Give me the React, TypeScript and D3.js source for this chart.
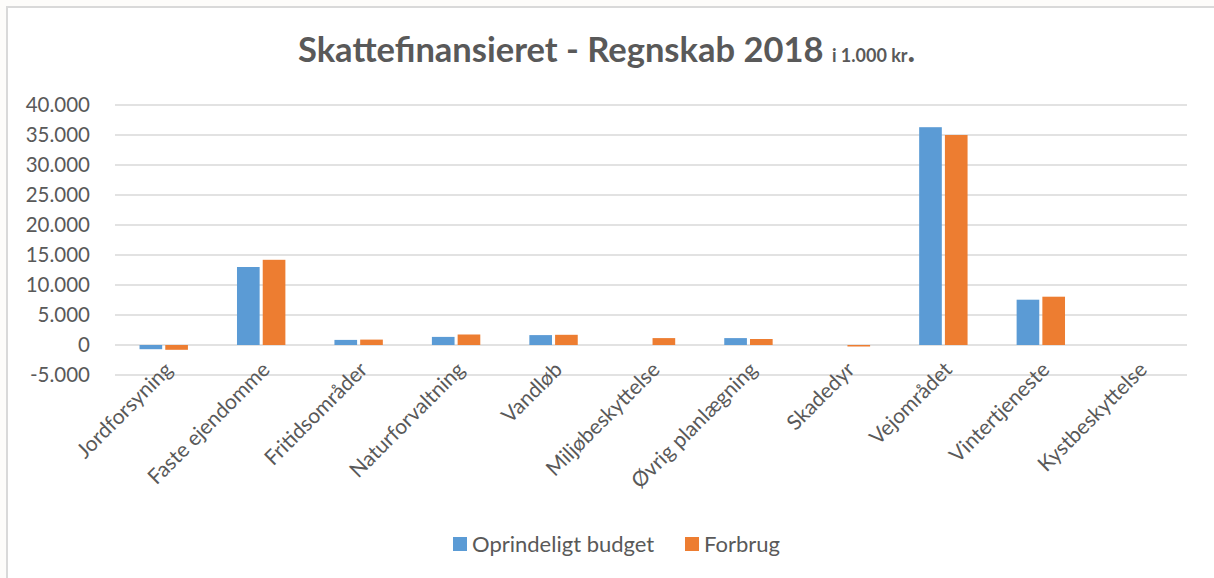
import React, { useEffect, useRef } from "react";
import * as d3 from "d3";

const categories = [
  "Jordforsyning",
  "Faste ejendomme",
  "Fritidsområder",
  "Naturforvaltning",
  "Vandløb",
  "Miljøbeskyttelse",
  "Øvrig planlægning",
  "Skadedyr",
  "Vejområdet",
  "Vintertjeneste",
  "Kystbeskyttelse",
];

const seriesNames = ["Oprindeligt budget", "Forbrug"];
const budget = [-700, 13000, 850, 1350, 1650, 0, 1150, 0, 36300, 7550, 0];
const forbrug = [-800, 14200, 900, 1750, 1700, 1150, 1000, -250, 35000, 8050, 0];
const yTicks = [-5000, 0, 5000, 10000, 15000, 20000, 25000, 30000, 35000, 40000];

const colors = ["#5B9BD5", "#ED7D31"];
const FONT = "Lato, 'Open Sans', sans-serif";

export default function App() {
  const svgRef = useRef<SVGSVGElement>(null);

  useEffect(() => {
    if (!svgRef.current) return;
    const svg = d3.select(svgRef.current);
    svg.selectAll("*").remove();

    const width = 1214;
    const height = 578;
    const margin = { top: 105, right: 27, bottom: 203, left: 115 };
    const innerWidth = width - margin.left - margin.right;
    const innerHeight = height - margin.top - margin.bottom;

    // background + chart frame
    svg.append("rect").attr("width", width).attr("height", height).attr("fill", "#fdfcfa");
    svg.append("rect")
      .attr("x", 7).attr("y", 7)
      .attr("width", width + 10).attr("height", height + 10)
      .attr("fill", "#ffffff")
      .attr("stroke", "#d9d9d9")
      .attr("stroke-width", 2);

    const g = svg.append("g").attr("transform", `translate(${margin.left},${margin.top})`);

    const x0 = d3.scaleBand<string>().domain(categories).range([0, innerWidth]).paddingInner(0.44).paddingOuter(0.22);
    const x1 = d3.scaleBand<string>().domain(seriesNames).range([0, x0.bandwidth()]).padding(0.12);
    const y = d3.scaleLinear().domain([-5000, 40000]).range([innerHeight, 0]);

    // gridlines
    g.selectAll("line.grid")
      .data(yTicks)
      .join("line")
      .attr("x1", 0)
      .attr("x2", innerWidth)
      .attr("y1", (d) => y(d))
      .attr("y2", (d) => y(d))
      .attr("stroke", "#d9d9d9")
      .attr("stroke-width", 1.5);

    // y labels (danish thousands separator, plain hyphen for minus)
    const yAxis = g.append("g").call(
      d3.axisLeft(y)
        .tickValues(yTicks)
        .tickSize(0)
        .tickPadding(25)
        .tickFormat((d) => d3.format(",")(d as number).replace(/,/g, ".").replace("\u2212", "-"))
    );
    yAxis.select(".domain").remove();
    yAxis.selectAll("text")
      .style("font-family", FONT)
      .style("font-size", "20.5px")
      .attr("fill", "#595959");

    // bars
    const data = categories.map((c, i) => ({ cat: c, values: [budget[i], forbrug[i]] }));
    const groups = g.selectAll("g.cat")
      .data(data)
      .join("g")
      .attr("transform", (d) => `translate(${x0(d.cat)},0)`);

    groups.selectAll("rect")
      .data((d) => d.values.map((v, k) => ({ v, k })))
      .join("rect")
      .attr("x", (d) => x1(seriesNames[d.k]) as number)
      .attr("width", x1.bandwidth())
      .attr("y", (d) => y(Math.max(0, d.v)))
      .attr("height", (d) => Math.abs(y(d.v) - y(0)))
      .attr("fill", (d) => colors[d.k]);

    // x labels, rotated
    const xAxis = g.append("g")
      .attr("transform", `translate(0,${innerHeight})`)
      .call(d3.axisBottom(x0).tickSize(0).tickPadding(0));
    xAxis.select(".domain").remove();
    xAxis.selectAll("text")
      .style("font-family", FONT)
      .style("font-size", "21px")
      .attr("fill", "#595959")
      .attr("text-anchor", "end")
      .attr("dy", "0")
      .attr("transform", "translate(10,-4) rotate(-45)");

    // title
    const title = svg.append("text")
      .attr("x", 298)
      .attr("y", 62)
      .attr("fill", "#595959")
      .style("font-family", FONT);
    title.append("tspan")
      .style("font-size", "34.5px")
      .style("font-weight", "bold")
      .text("Skattefinansieret - Regnskab 2018 ");
    title.append("tspan")
      .style("font-size", "18px")
      .style("font-weight", "bold")
      .text("i 1.000 kr");
    title.append("tspan")
      .style("font-size", "32px")
      .style("font-weight", "bold")
      .text(".");

    // legend
    const legendX = [453, 685];
    seriesNames.forEach((name, k) => {
      svg.append("rect")
        .attr("x", legendX[k])
        .attr("y", 537)
        .attr("width", 14)
        .attr("height", 14)
        .attr("fill", colors[k]);
      svg.append("text")
        .attr("x", legendX[k] + 19)
        .attr("y", 552)
        .attr("fill", "#595959")
        .style("font-family", FONT)
        .style("font-size", "22px")
        .text(name);
    });
  }, []);

  return (
    <svg
      ref={svgRef}
      width={1214}
      height={578}
      style={{ position: "absolute", left: 0, top: 0, display: "block" }}
    />
  );
}
